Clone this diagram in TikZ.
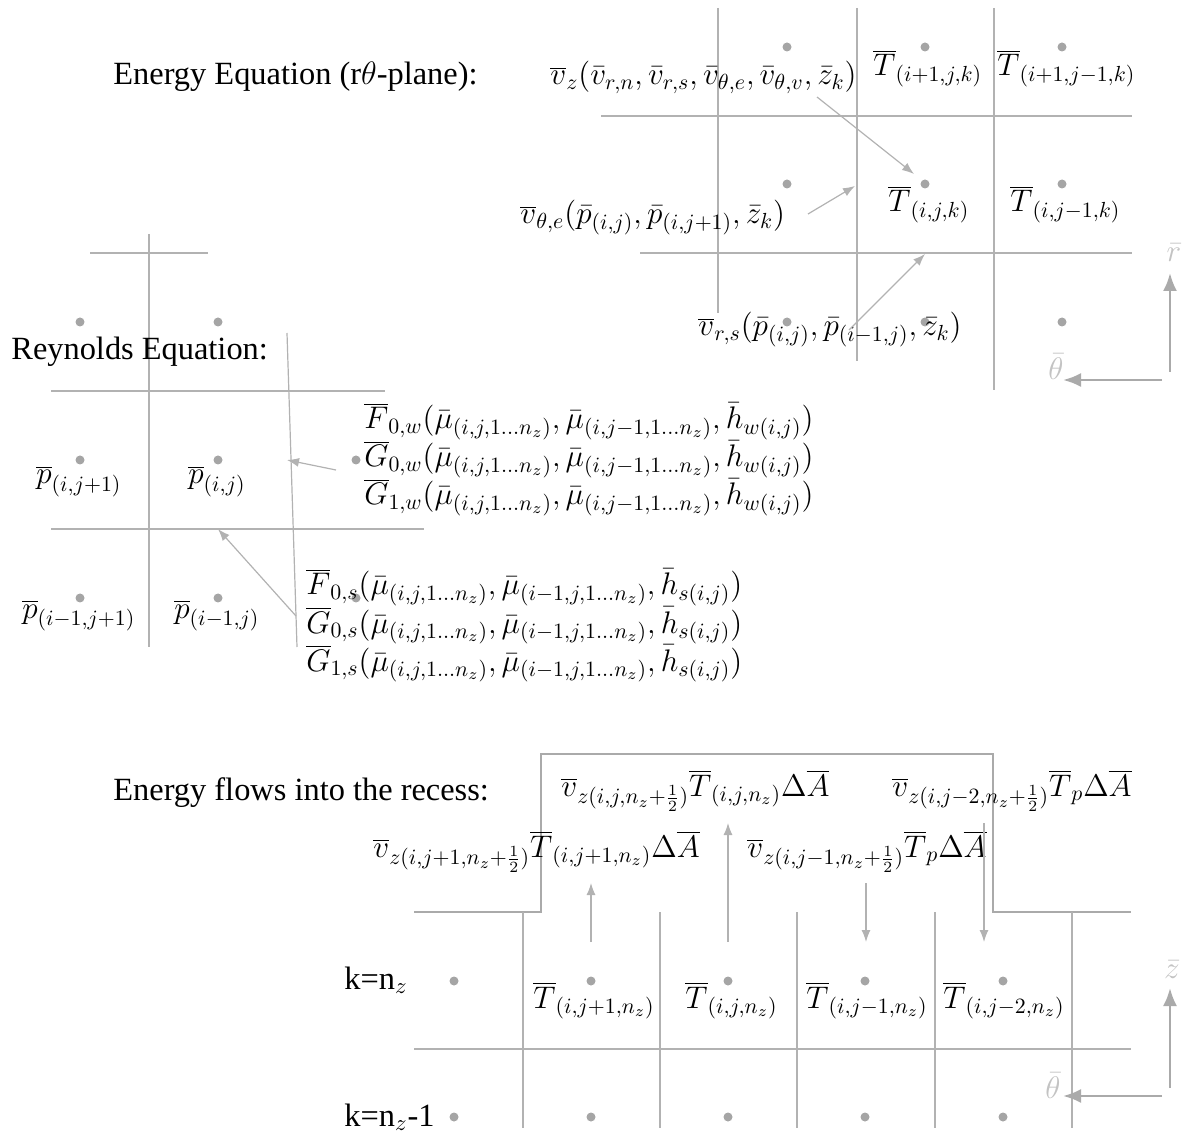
\RequirePackage{fix-cm}
\documentclass[tikz,border=0pt]{standalone}
\usepackage[no-math]{fontspec}
\setmainfont{Liberation Serif}
\usetikzlibrary{arrows.meta}
\definecolor{gridc}{RGB}{178,178,178}
\definecolor{dotc}{RGB}{165,165,165}
\definecolor{axc}{RGB}{170,170,170}
\definecolor{axlab}{RGB}{195,195,195}
\tikzset{
  gl/.style={draw=gridc, line width=0.6pt},
  outl/.style={draw=axc, line width=1.3pt},
  flow/.style={draw=gridc, line width=0.6pt, -{Latex[length=6pt,width=4.5pt]}},
  axarr/.style={draw=axc, line width=1.3pt, -{Latex[length=9pt,width=7pt]}},
  dot/.style={circle, fill=dotc, inner sep=0pt, minimum size=4.5pt},
  lab/.style={anchor=base west, inner sep=0pt, font=\fontsize{15.6}{18}\selectfont},
  txt/.style={anchor=base west, inner sep=0pt, font=\fontsize{16.2}{19}\selectfont},
  axl/.style={text=axlab, inner sep=0pt, font=\fontsize{15.6}{18}\selectfont},
}
\begin{document}
\begin{tikzpicture}[x=0.5pt, y=-0.5pt]
\useasboundingbox (0,0) rectangle (1183,1133);

% ===== Energy equation (r-theta plane) =====
\draw[gl] (718,8) -- (718,313);
\draw[gl] (857,8) -- (857,361);
\draw[gl] (994,8) -- (994,390);
\draw[gl] (601,116) -- (1132,116);
\draw[gl] (640,253) -- (1132,253);
\foreach \x/\n in {787/a,925/b,1062/c}{
  \node[dot] (e1\n) at (\x,47) {};
  \node[dot] (e2\n) at (\x,184) {};
  \node[dot] (e3\n) at (\x,322) {};
}
\node[txt] (t1) at (113,85) {Energy Equation (r$\theta$-plane):};
\node[lab] (vz) at (550,85) {$\overline{v}_z(\bar v_{r,n},\bar v_{r,s},\bar v_{\theta,e},\bar v_{\theta,v},\bar z_k)$};
\node[lab] (T1) at (873,76) {$\overline{T}_{(i+1,j,k)}$};
\node[lab] (T2) at (997,76) {$\overline{T}_{(i+1,j-1,k)}$};
\node[lab] (T3) at (888,212) {$\overline{T}_{(i,j,k)}$};
\node[lab] (T4) at (1010,212) {$\overline{T}_{(i,j-1,k)}$};
\node[lab] (vte) at (520,224) {$\overline{v}_{\theta,e}(\bar p_{(i,j)},\bar p_{(i,j+1)},\bar z_k)$};
\node[lab] (vrs) at (698,336) {$\overline{v}_{r,s}(\bar p_{(i,j)},\bar p_{(i-1,j)},\bar z_k)$};
\coordinate (a1s) at (817,97);  \coordinate (a1e) at (914,174);
\coordinate (a2s) at (808,214); \coordinate (a2e) at (855,186);
\coordinate (a3s) at (849,330); \coordinate (a3e) at (925,254);
\draw[flow] (a1s) -- (a1e);
\draw[flow] (a2s) -- (a2e);
\draw[flow] (a3s) -- (a3e);
% axes
\coordinate (r0) at (1170,372); \coordinate (r1) at (1170,273);
\coordinate (h0) at (1162,380); \coordinate (h1) at (1063,380);
\draw[axarr] (r0) -- (r1);
\draw[axarr] (h0) -- (h1);
\node[axl] (rl) at (1174,253) {$\bar r$};
\node[axl] (thl) at (1056,367) {$\bar\theta$};

% ===== Reynolds equation =====
\draw[gl] (149,234) -- (149,647);
\draw[gl] (90,253) -- (208,253);
\draw[gl] (51,391) -- (385,391);
\draw[gl] (51,529) -- (424,529);
\draw[gl] (287,333) -- (297,647);
\foreach \y/\n in {322/a,460/b,598/c}{
  \node[dot] (r1\n) at (80,\y) {};
  \node[dot] (r2\n) at (218,\y) {};
}
\node[dot] (r3b) at (356,460) {};
\node[dot] (r3c) at (356,598) {};
\node[txt] (t2) at (11,360) {Reynolds Equation:};
\node[lab] (p1) at (36,484) {$\overline{p}_{(i,j+1)}$};
\node[lab] (p2) at (188,484) {$\overline{p}_{(i,j)}$};
\node[lab] (p3) at (22,618) {$\overline{p}_{(i-1,j+1)}$};
\node[lab] (p4) at (174,618) {$\overline{p}_{(i-1,j)}$};
\node[lab] (Fw) at (364,429) {$\overline{F}_{0,w}(\bar\mu_{(i,j,1\ldots n_z)},\bar\mu_{(i,j-1,1\ldots n_z)},\bar h_{w(i,j)})$};
\node[lab] (G0w) at (364,467) {$\overline{G}_{0,w}(\bar\mu_{(i,j,1\ldots n_z)},\bar\mu_{(i,j-1,1\ldots n_z)},\bar h_{w(i,j)})$};
\node[lab] (G1w) at (364,505) {$\overline{G}_{1,w}(\bar\mu_{(i,j,1\ldots n_z)},\bar\mu_{(i,j-1,1\ldots n_z)},\bar h_{w(i,j)})$};
\node[lab] (Fs) at (306,595) {$\overline{F}_{0,s}(\bar\mu_{(i,j,1\ldots n_z)},\bar\mu_{(i-1,j,1\ldots n_z)},\bar h_{s(i,j)})$};
\node[lab] (G0s) at (306,633) {$\overline{G}_{0,s}(\bar\mu_{(i,j,1\ldots n_z)},\bar\mu_{(i-1,j,1\ldots n_z)},\bar h_{s(i,j)})$};
\node[lab] (G1s) at (306,671) {$\overline{G}_{1,s}(\bar\mu_{(i,j,1\ldots n_z)},\bar\mu_{(i-1,j,1\ldots n_z)},\bar h_{s(i,j)})$};
\coordinate (b1s) at (336,470); \coordinate (b1e) at (287,460);
\coordinate (b2s) at (296,616); \coordinate (b2e) at (218,529);
\draw[flow] (b1s) -- (b1e);
\draw[flow] (b2s) -- (b2e);

% ===== Energy flows into the recess =====
\draw[outl] (414,912) -- (541,912) -- (541,754) -- (993,754) -- (993,912) -- (1131,912);
\foreach \x in {523,660,797,935,1072}{ \draw[gl] (\x,912) -- (\x,1128); }
\draw[gl] (414,1049) -- (1131,1049);
\foreach \x/\n in {454/a,591/b,728/c,865/d,1003/e}{
  \node[dot] (k1\n) at (\x,981) {};
  \node[dot] (k2\n) at (\x,1117) {};
}
\node[txt] (t3) at (113,800) {Energy flows into the recess:};
\node[lab] (f1) at (561,796) {$\overline{v}_{z(i,j,n_z+\frac{1}{2})}\overline{T}_{(i,j,n_z)}\Delta\overline{A}$};
\node[lab] (f2) at (892,796) {$\overline{v}_{z(i,j-2,n_z+\frac{1}{2})}\overline{T}_p\Delta\overline{A}$};
\node[lab] (f3) at (373,857) {$\overline{v}_{z(i,j+1,n_z+\frac{1}{2})}\overline{T}_{(i,j+1,n_z)}\Delta\overline{A}$};
\node[lab] (f4) at (747,857) {$\overline{v}_{z(i,j-1,n_z+\frac{1}{2})}\overline{T}_p\Delta\overline{A}$};
\node[txt] (kz) at (344,989) {k=n$_z$};
\node[txt] (kz1) at (344,1126) {k=n$_z$-1};
\node[lab] (Tb1) at (533,1008) {$\overline{T}_{(i,j+1,n_z)}$};
\node[lab] (Tb2) at (685,1008) {$\overline{T}_{(i,j,n_z)}$};
\node[lab] (Tb3) at (806,1008) {$\overline{T}_{(i,j-1,n_z)}$};
\node[lab] (Tb4) at (943,1008) {$\overline{T}_{(i,j-2,n_z)}$};
\coordinate (c1s) at (591,942); \coordinate (c1e) at (591,883);
\coordinate (c2s) at (728,942); \coordinate (c2e) at (728,823);
\coordinate (c3s) at (866,883); \coordinate (c3e) at (866,942);
\coordinate (c4s) at (984,823); \coordinate (c4e) at (984,942);
\draw[flow] (c1s) -- (c1e);
\draw[flow] (c2s) -- (c2e);
\draw[flow] (c3s) -- (c3e);
\draw[flow] (c4s) -- (c4e);
% axes
\coordinate (z0) at (1170,1088); \coordinate (z1) at (1170,988);
\coordinate (g0) at (1162,1096); \coordinate (g1) at (1063,1096);
\draw[axarr] (z0) -- (z1);
\draw[axarr] (g0) -- (g1);
\node[axl] (zl) at (1172,970) {$\bar z$};
\node[axl] (thl2) at (1053,1086) {$\bar\theta$};
\end{tikzpicture}
\end{document}
